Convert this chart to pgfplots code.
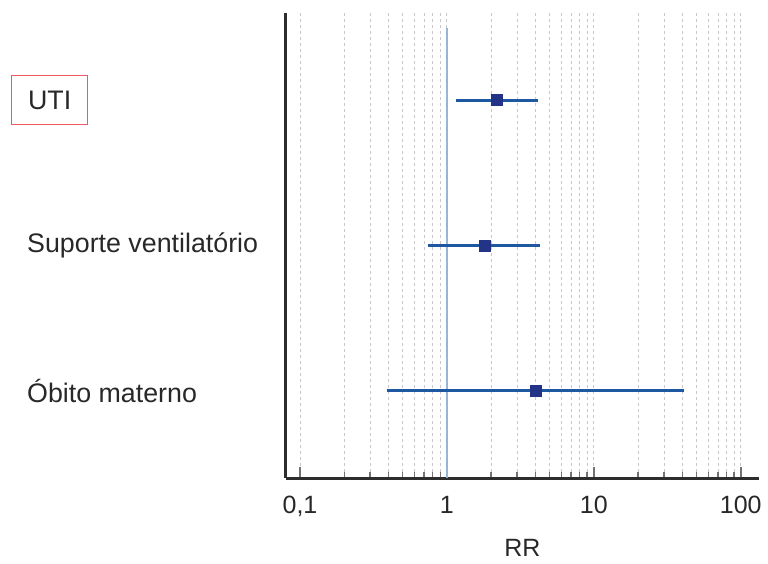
\documentclass[border=0pt]{standalone}
\usepackage{pgfplots}
\pgfplotsset{compat=1.18}
\usepackage{fontspec}
\setmainfont{Liberation Sans}
\definecolor{txt}{RGB}{40,40,40}
\definecolor{axisc}{RGB}{45,45,45}
\definecolor{ci}{RGB}{30,88,160}
\definecolor{pt}{RGB}{35,52,135}
\definecolor{ref}{RGB}{150,182,215}
\definecolor{boxred}{RGB}{238,90,100}
\definecolor{gridc}{RGB}{200,200,200}
\begin{document}
\begin{tikzpicture}[x=1pt,y=1pt]
\path[use as bounding box] (0,0) rectangle (768,563);
\begin{axis}[
  at={(286pt,85pt)}, anchor=south west,
  scale only axis, width=473pt, height=465pt,
  xmode=log, xmin=0.0803, xmax=133,
  ymin=0.4, ymax=3.6,
  axis x line*=bottom, axis y line*=left,
  axis line style={axisc, line width=3pt},
  ytick=\empty,
  xtick={0.1,1,10,100},
  xticklabels={{0,1},1,10,100},
  minor xtick={0.2,0.3,0.4,0.5,0.6,0.7,0.8,0.9,2,3,4,5,6,7,8,9,20,30,40,50,60,70,80,90},
  xtick pos=bottom,
  tick align=inside,
  major tick length=11pt, minor tick length=6pt,
  every tick/.style={black!55, line width=1.4pt},
  xmajorgrids, xminorgrids,
  grid style={gridc, dashed, line width=0.9pt},
  minor grid style={gridc, dashed, line width=0.9pt},
  xticklabel style={font=\fontsize{25}{28}\selectfont, text=txt, anchor=north, yshift=-15pt},
  clip=false,
]
\addplot[ref, line width=1.4pt] coordinates {(1,0.4) (1,3.495)};
\addplot[ci, line width=3pt] coordinates {(1.15,3) (4.16,3)};
\addplot[ci, line width=3pt] coordinates {(0.74,2) (4.29,2)};
\addplot[ci, line width=3pt] coordinates {(0.39,1) (41,1)};
\addplot[only marks, mark=square*, mark size=5.5pt, mark options={fill=pt, draw=pt}] coordinates {(2.19,3) (1.81,2) (4.03,1)};
\node[anchor=west, inner sep=0pt, text=txt, font=\fontsize{26.8}{30}\selectfont] at ([xshift=-259pt]axis cs:0.0803,2) {Suporte ventilatório};
\node[anchor=west, inner sep=0pt, text=txt, font=\fontsize{26.8}{30}\selectfont] at ([xshift=-259pt]axis cs:0.0803,1) {Óbito materno};
\node[anchor=west, draw=boxred, line width=1.2pt, inner xsep=16.5pt, minimum height=49pt, text=txt, font=\fontsize{26.8}{30}\selectfont] at ([xshift=-275pt]axis cs:0.0803,3) {UTI};
\node[anchor=base, inner sep=0pt, text=txt, font=\fontsize{25}{28}\selectfont] at ([yshift=-78pt]rel axis cs:0.5,0) {RR};
\end{axis}
\end{tikzpicture}
\end{document}
